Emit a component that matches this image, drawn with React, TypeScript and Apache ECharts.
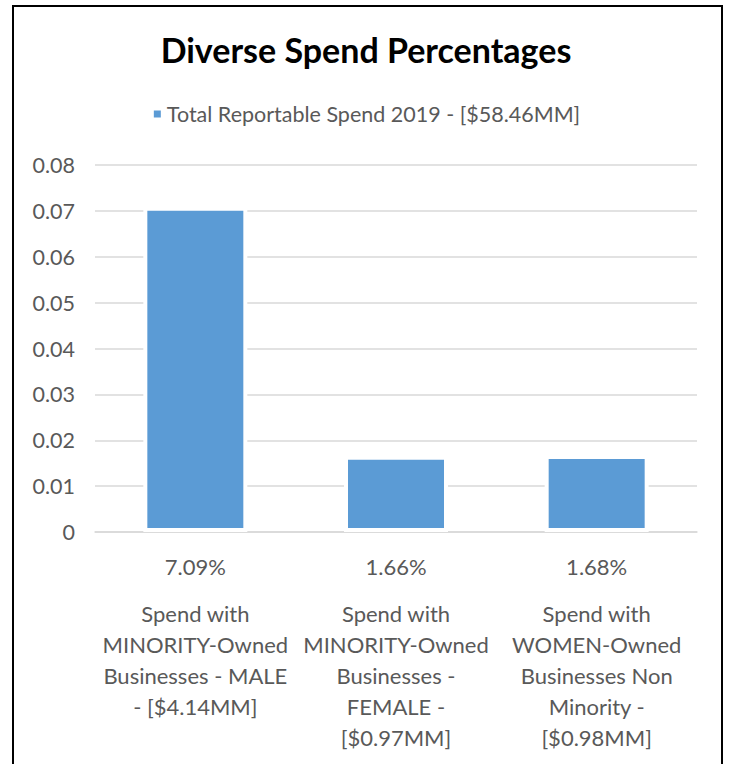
import React, { useEffect, useRef } from "react";
import * as echarts from "echarts";

const titleText = "Diverse Spend Percentages";
const seriesName = "Total Reportable Spend 2019 - [$58.46MM]";
const categories = [
  "Spend with\nMINORITY-Owned\nBusinesses - MALE\n- [$4.14MM]",
  "Spend with\nMINORITY-Owned\nBusinesses -\nFEMALE -\n[$0.97MM]",
  "Spend with\nWOMEN-Owned\nBusinesses Non\nMinority -\n[$0.98MM]",
];
const values = [0.0709, 0.0166, 0.0168];
const valueLabels = ["7.09%", "1.66%", "1.68%"];
const yTicks = [0, 0.01, 0.02, 0.03, 0.04, 0.05, 0.06, 0.07, 0.08];

const FONT = "Lato, 'Open Sans', sans-serif";
const GREY = "#595959";

export default function App() {
  const ref = useRef<HTMLDivElement>(null);
  useEffect(() => {
    document.body.style.margin = "0";
    const chart = echarts.init(ref.current!, null, { renderer: "svg" });
    chart.setOption({
      animation: false,
      backgroundColor: "#ffffff",
      title: {
        text: titleText,
        left: "center",
        top: 27,
        textStyle: { fontFamily: FONT, fontSize: 34, fontWeight: "bold", color: "#000" },
      },
      legend: {
        top: 98,
        left: "center",
        itemWidth: 9,
        itemHeight: 9,
        icon: "rect",
        textStyle: { fontFamily: FONT, fontSize: 21.5, color: GREY },
        data: [seriesName],
      },
      graphic: [
        {
          type: "rect",
          shape: { x: 13, y: 6, width: 709, height: 800 },
          style: { fill: "none", stroke: "#000", lineWidth: 2 },
          silent: true,
        },
      ],
      grid: { left: 95, right: 35, top: 165, bottom: 232 },
      xAxis: {
        type: "category",
        data: categories,
        axisTick: { show: false },
        axisLine: { lineStyle: { color: "#d9d9d9", width: 1.5 } },
        axisLabel: {
          interval: 0,
          margin: 19,
          formatter: (v: string, i: number) => {
            const lines = v.split("\n").map((l) => `{c|${l}}`).join("\n");
            return `{v|${valueLabels[i]}}\n{s| }\n${lines}`;
          },
          rich: {
            v: { fontFamily: FONT, fontSize: 22, lineHeight: 30, color: GREY },
            s: { fontSize: 4, lineHeight: 17 },
            c: { fontFamily: FONT, fontSize: 22, lineHeight: 31, color: GREY },
          },
        },
      },
      yAxis: {
        type: "value",
        min: 0,
        max: 0.08,
        interval: 0.01,
        axisLine: { show: false },
        axisTick: { show: false },
        splitLine: { lineStyle: { color: "#d9d9d9", width: 1.5 } },
        axisLabel: {
          margin: 20,
          fontFamily: FONT,
          fontSize: 21.5,
          color: GREY,
          formatter: (v: number) => {
            const t = yTicks.find((x) => Math.abs(x - v) < 1e-9);
            return t === 0 ? "0" : String(Number(v.toFixed(2)));
          },
        },
      },
      series: [
        {
          name: seriesName,
          type: "bar",
          data: values,
          barWidth: 104,
          itemStyle: { color: "#5b9bd5", borderColor: "#ffffff", borderWidth: 4 },
        },
      ],
    });
    return () => chart.dispose();
  }, []);
  return <div ref={ref} style={{ width: 732, height: 764 }} />;
}
